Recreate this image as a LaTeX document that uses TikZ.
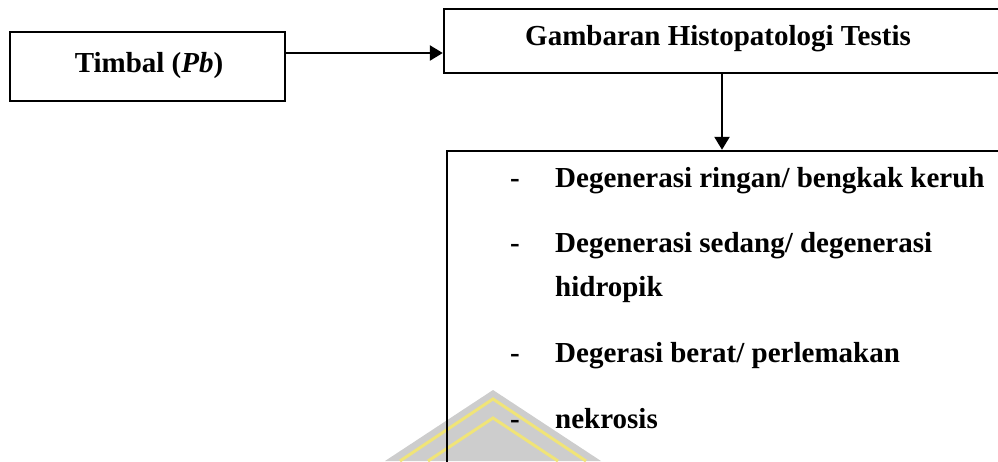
\documentclass[tikz,border=0pt]{standalone}
\usepackage{fontspec}
\setmainfont{Liberation Serif}
\usetikzlibrary{arrows.meta}
\definecolor{wmgray}{RGB}{205,205,205}
\definecolor{wmyellow}{RGB}{240,228,120}
\begin{document}
\begin{tikzpicture}[x=1pt,y=-1pt,
  box/.style={draw, line width=2.4pt, inner sep=0pt},
  lbl/.style={font=\fontsize{29}{34}\selectfont\bfseries, inner sep=0pt},
  arr/.style={line width=2.4pt, -{Triangle[length=13pt,width=15pt]}}]
\useasboundingbox (0,0) rectangle (998,461);
% watermark
\fill[wmgray] (385,461) -- (493,390) -- (601,461) -- cycle;
\draw[wmyellow, line width=3pt] (400,461) -- (493,399) -- (586,461);
\draw[wmyellow, line width=3pt] (428,461) -- (493,418) -- (558,461);
% boxes
\node[box, minimum width=275pt, minimum height=69pt] (timbal) at (147.5,66.5) {};
\node[lbl, anchor=base] (timbaltext) at (149,72) {Timbal (\textit{Pb})};
\node[box, minimum width=570pt, minimum height=64pt] (hist) at (729,41) {};
\node[lbl, anchor=base] (histtext) at (718,45) {Gambaran Histopatologi Testis};
\node[box, minimum width=570pt, minimum height=340pt] (bottom) at (732,321) {};
% items
\node[lbl, anchor=base] (d1) at (515,187) {-};
\node[lbl, anchor=base west] (t1) at (555,187) {Degenerasi ringan/ bengkak keruh};
\node[lbl, anchor=base] (d2) at (515,252) {-};
\node[lbl, anchor=base west] (t2) at (555,252) {Degenerasi sedang/ degenerasi};
\node[lbl, anchor=base west] (t2b) at (555,296) {hidropik};
\node[lbl, anchor=base] (d3) at (515,362) {-};
\node[lbl, anchor=base west] (t3) at (555,362) {Degerasi berat/ perlemakan};
\node[lbl, anchor=base] (d4) at (515,428) {-};
\node[lbl, anchor=base west] (t4) at (555,428) {nekrosis};
% connectors
\draw[arr] ([yshift=13.5pt]timbal.east) -- ([yshift=13.5pt]timbal.east -| hist.west);
\coordinate (vx) at (722,0);
\draw[arr] (vx |- hist.south) -- (vx |- bottom.north);
\end{tikzpicture}
\end{document}
